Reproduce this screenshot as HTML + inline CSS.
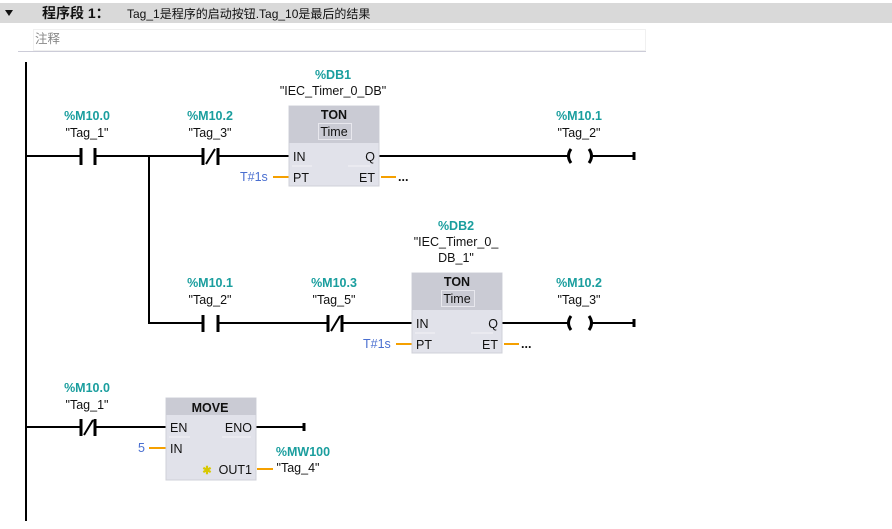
<!DOCTYPE html>
<html><head><meta charset="utf-8"><style>
html,body{margin:0;padding:0;background:#fff;width:892px;height:529px;overflow:hidden}
svg{display:block}
text{font-family:"Liberation Sans","Noto Sans CJK SC",sans-serif;font-size:12.5px}
.t{fill:#1a9e9e;font-weight:bold;text-anchor:middle}
.n{fill:#111;text-anchor:middle}
.p{fill:#111}
.b{fill:#4a6fd0}
</style></head><body>
<svg width="892" height="529" viewBox="0 0 892 529" xmlns="http://www.w3.org/2000/svg">
<rect x="0" y="3" width="892" height="20" fill="#d9d9d9"/>
<polygon points="5,10 13,10 9,16" fill="#111"/>
<text x="42" y="18" style="font-size:14px;font-weight:bold" fill="#111">程序段 1：</text>
<text x="127" y="18" style="font-size:12px" fill="#111">Tag_1是程序的启动按钮.Tag_10是最后的结果</text>
<rect x="33.5" y="29.5" width="612" height="21" fill="#fff" stroke="#f0f0f0"/>
<text x="35" y="43" style="font-size:12.5px" fill="#888">注释</text>
<line x1="18" y1="51.5" x2="646" y2="51.5" stroke="#ccccd8" stroke-width="1"/>
<rect x="25" y="62" width="2" height="459" fill="#000"/>

<g stroke="#000" stroke-width="2" fill="none">
<line x1="26" y1="156" x2="80" y2="156"/>
<line x1="95" y1="156" x2="203" y2="156"/>
<line x1="218" y1="156" x2="289" y2="156"/>
<line x1="379" y1="156" x2="568" y2="156"/>
<line x1="592" y1="156" x2="634" y2="156"/>
<line x1="149" y1="156" x2="149" y2="324"/>
<line x1="148" y1="323" x2="203" y2="323"/>
<line x1="218" y1="323" x2="327" y2="323"/>
<line x1="342" y1="323" x2="412" y2="323"/>
<line x1="502" y1="323" x2="568" y2="323"/>
<line x1="592" y1="323" x2="634" y2="323"/>
<line x1="26" y1="427" x2="80" y2="427"/>
<line x1="95" y1="427" x2="166" y2="427"/>
<line x1="256" y1="427" x2="304" y2="427"/>
</g>
<g stroke="#000" stroke-width="3" fill="none">
<line x1="81" y1="148" x2="81" y2="165"/><line x1="95" y1="148" x2="95" y2="165"/>
<line x1="203" y1="148" x2="203" y2="165"/><line x1="218" y1="148" x2="218" y2="165"/>
<line x1="203" y1="315" x2="203" y2="332"/><line x1="218" y1="315" x2="218" y2="332"/>
<line x1="328" y1="315" x2="328" y2="332"/><line x1="342" y1="315" x2="342" y2="332"/>
<line x1="81" y1="419" x2="81" y2="436"/><line x1="95" y1="419" x2="95" y2="436"/>
<line x1="634" y1="152" x2="634" y2="160"/><line x1="634" y1="319" x2="634" y2="327"/><line x1="304" y1="423" x2="304" y2="431"/>
<path d="M571,149 Q566,156 571,163"/><path d="M589,149 Q594,156 589,163"/>
<path d="M571,316 Q566,323 571,330"/><path d="M589,316 Q594,323 589,330"/>
</g>
<g stroke="#000" stroke-width="2">
<line x1="206" y1="164" x2="215" y2="149"/>
<line x1="331" y1="331" x2="340" y2="316"/>
<line x1="84" y1="435" x2="93" y2="420"/>
</g>
<g stroke="#f5a000" stroke-width="2">
<line x1="273" y1="177" x2="289" y2="177"/><line x1="381" y1="177" x2="396" y2="177"/>
<line x1="396" y1="344" x2="412" y2="344"/><line x1="504" y1="344" x2="519" y2="344"/>
<line x1="149" y1="448" x2="166" y2="448"/><line x1="257" y1="469" x2="273" y2="469"/>
</g>
<rect x="289" y="106" width="90" height="80" fill="#e1e2ea" stroke="#cfd0d8"/>
<rect x="289" y="106" width="90" height="37" fill="#cacbd4"/>
<rect x="318.5" y="123.5" width="33" height="16" fill="none" stroke="#e8e8ee"/>
<text x="334" y="119" class="n" style="font-weight:bold">TON</text>
<text x="334" y="136" class="n">Time</text>
<line x1="292" y1="166" x2="312" y2="166" stroke="#f2f2f6"/><line x1="348" y1="166" x2="370" y2="166" stroke="#f2f2f6"/>
<text x="293" y="161" class="p">IN</text><text x="293" y="182" class="p">PT</text>
<text x="375" y="161" class="p" text-anchor="end">Q</text><text x="375" y="182" class="p" text-anchor="end">ET</text>
<text x="240" y="181" class="b">T#1s</text><text x="398" y="181" class="p" style="font-weight:bold">...</text>
<text x="333" y="79" class="t">%DB1</text><text x="333" y="95" class="n">"IEC_Timer_0_DB"</text>
<rect x="412" y="273" width="90" height="80" fill="#e1e2ea" stroke="#cfd0d8"/>
<rect x="412" y="273" width="90" height="37" fill="#cacbd4"/>
<rect x="441.5" y="290.5" width="33" height="16" fill="none" stroke="#e8e8ee"/>
<text x="457" y="286" class="n" style="font-weight:bold">TON</text>
<text x="457" y="303" class="n">Time</text>
<line x1="415" y1="333" x2="435" y2="333" stroke="#f2f2f6"/><line x1="471" y1="333" x2="493" y2="333" stroke="#f2f2f6"/>
<text x="416" y="328" class="p">IN</text><text x="416" y="349" class="p">PT</text>
<text x="498" y="328" class="p" text-anchor="end">Q</text><text x="498" y="349" class="p" text-anchor="end">ET</text>
<text x="363" y="348" class="b">T#1s</text><text x="521" y="348" class="p" style="font-weight:bold">...</text>
<text x="456" y="230" class="t">%DB2</text><text x="456" y="246" class="n">"IEC_Timer_0_</text><text x="456" y="262" class="n">DB_1"</text>
<rect x="166" y="398" width="90" height="82" fill="#e1e2ea" stroke="#cfd0d8"/>
<rect x="166" y="398" width="90" height="17" fill="#cacbd4"/>
<text x="210" y="412" class="n" style="font-weight:bold">MOVE</text>
<line x1="169" y1="437" x2="190" y2="437" stroke="#f2f2f6"/><line x1="222" y1="437" x2="251" y2="437" stroke="#f2f2f6"/>
<text x="170" y="432" class="p">EN</text><text x="170" y="453" class="p">IN</text>
<text x="252" y="432" class="p" text-anchor="end">ENO</text><text x="252" y="474" class="p" text-anchor="end">OUT1</text>
<text x="207" y="474" style="font-size:11px;fill:#d8c800;text-anchor:middle;font-weight:bold">✱</text>
<text x="138" y="452" class="b">5</text>
<text x="303" y="456" class="t">%MW100</text><text x="298" y="472" class="n">"Tag_4"</text>
<text x="87" y="120" class="t">%M10.0</text><text x="87" y="137" class="n">"Tag_1"</text>
<text x="210" y="120" class="t">%M10.2</text><text x="210" y="137" class="n">"Tag_3"</text>
<text x="579" y="120" class="t">%M10.1</text><text x="579" y="137" class="n">"Tag_2"</text>
<text x="210" y="287" class="t">%M10.1</text><text x="210" y="304" class="n">"Tag_2"</text>
<text x="334" y="287" class="t">%M10.3</text><text x="334" y="304" class="n">"Tag_5"</text>
<text x="579" y="287" class="t">%M10.2</text><text x="579" y="304" class="n">"Tag_3"</text>
<text x="87" y="392" class="t">%M10.0</text><text x="87" y="409" class="n">"Tag_1"</text>
</svg>
</body></html>
